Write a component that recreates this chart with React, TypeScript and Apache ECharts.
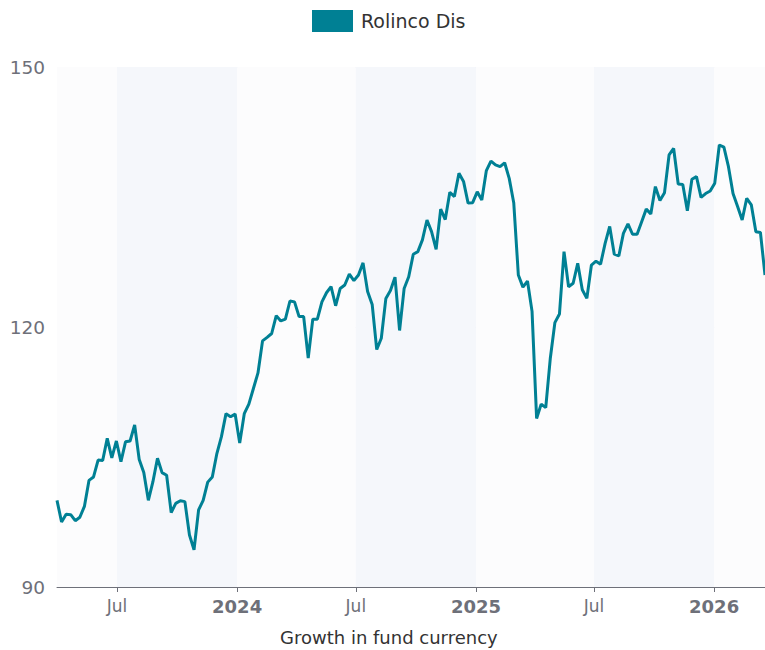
import React, { useEffect, useRef } from 'react';
import * as echarts from 'echarts';

const seriesName = 'Rolinco Dis';
const axisTitle = 'Growth in fund currency';
// first weekly observation: 31 Mar 2023 (year, monthIndex, day)
const startDate = [2023, 2, 31];
const monthNames = ['Jan', 'Feb', 'Mar', 'Apr', 'May', 'Jun', 'Jul', 'Aug', 'Sep', 'Oct', 'Nov', 'Dec'];
const yTicks = [90, 120, 150];

// weekly fund growth values (start = 100)
const values = [
  100.0, 97.5, 98.4, 98.35, 97.65, 98.05, 99.3, 102.3, 102.7, 104.65,
  104.6, 107.15, 104.9, 106.85, 104.45, 106.75, 106.85, 108.7, 104.7, 103.2,
  100.0, 102.15, 104.85, 103.2, 102.9, 98.6, 99.65, 99.95, 99.85, 96.0,
  94.3, 98.9, 100.0, 102.1, 102.7, 105.4, 107.35, 110.0, 109.65, 109.95,
  106.6, 110.0, 111.1, 112.9, 114.7, 118.4, 118.8, 119.25, 121.3, 120.7,
  120.9, 123.0, 122.9, 121.2, 121.2, 116.4, 120.9, 120.9, 122.9, 123.95,
  124.65, 122.45, 124.45, 124.85, 126.1, 125.35, 126.0, 127.4, 124.1, 122.6,
  117.4, 118.7, 123.3, 124.2, 125.75, 119.6, 124.45, 125.8, 128.4, 128.7,
  130.05, 132.35, 131.0, 128.95, 133.6, 132.4, 135.55, 135.05, 137.75, 136.8,
  134.3, 134.35, 135.6, 134.65, 138.05, 139.15, 138.7, 138.5, 138.95, 137.15,
  134.3, 126.0, 124.6, 125.3, 121.8, 109.45, 111.1, 110.7, 116.4, 120.5,
  121.5, 128.7, 124.65, 125.05, 127.35, 124.3, 123.3, 127.15, 127.6, 127.25,
  129.65, 131.6, 128.4, 128.2, 130.8, 131.9, 130.7, 130.7, 132.15, 133.6,
  133.05, 136.2, 134.6, 135.5, 139.85, 140.6, 136.5, 136.45, 133.4, 137.05,
  137.35, 134.95, 135.4, 135.7, 136.6, 141.0, 140.75, 138.5, 135.4, 133.9,
  132.35, 134.85, 134.1, 131.0, 130.9, 126.0,
];

const lineColor = '#008094';
const font = 'DejaVu Sans';

function weeklyDates(n: number): number[] {
  const out: number[] = [];
  for (let i = 0; i < n; i++) {
    const d = new Date(startDate[0], startDate[1], startDate[2] + i * 7);
    out.push(d.getTime());
  }
  return out;
}

export default function App() {
  const ref = useRef<HTMLDivElement>(null);
  useEffect(() => {
    if (!ref.current) return;
    const chart = echarts.init(ref.current, null, { renderer: 'svg' });
    const dates = weeklyDates(values.length);
    const data = dates.map((d, i) => [d, values[i]]);
    chart.setOption({
      animation: false,
      textStyle: { fontFamily: font },
      legend: {
        left: 312,
        top: 10,
        padding: 0,
        icon: 'rect',
        itemWidth: 41,
        itemHeight: 22,
        textStyle: { fontSize: 19, color: '#333', fontFamily: font, padding: [0, 0, 0, 3] },
        data: [seriesName],
      },
      grid: { left: 57, right: 0, top: 67, bottom: 63, containLabel: false, outerBoundsMode: 'none' },
      xAxis: {
        type: 'time',
        min: dates[0],
        max: dates[dates.length - 1],
        splitNumber: 6,
        axisLine: { show: true, lineStyle: { color: '#6e7079', width: 1 } },
        axisTick: { show: true, length: 5, lineStyle: { color: '#6e7079' } },
        axisLabel: {
          color: '#6e7079',
          fontSize: 17,
          fontFamily: font,
          margin: 10,
          showMinLabel: false,
          showMaxLabel: false,
          formatter: (v: number) => {
            const d = new Date(v);
            if (d.getMonth() === 0) return '{yr|' + d.getFullYear() + '}';
            return monthNames[d.getMonth()];
          },
          rich: { yr: { fontWeight: 'bold', fontSize: 18, color: '#6e7079', fontFamily: font } },
        },
        splitLine: { show: false },
        splitArea: { show: true, areaStyle: { color: ['#fcfcfd', '#f5f7fb'] } },
      },
      yAxis: {
        type: 'value',
        min: yTicks[0],
        max: yTicks[yTicks.length - 1],
        interval: yTicks[1] - yTicks[0],
        axisLine: { show: false },
        axisTick: { show: false },
        axisLabel: { color: '#6e7079', fontSize: 18.5, margin: 12, fontFamily: font },
        splitLine: { show: true, lineStyle: { color: '#e0e6f1', width: 1 } },
      },
      graphic: [
        {
          type: 'text',
          left: 280,
          top: 628,
          style: { text: axisTitle, fontSize: 18, fill: '#333', fontFamily: font },
        },
      ],
      series: [
        {
          type: 'line',
          name: seriesName,
          data,
          showSymbol: false,
          symbol: 'none',
          lineStyle: { color: lineColor, width: 3 },
          itemStyle: { color: lineColor },
        },
      ],
    });
    return () => chart.dispose();
  }, []);
  return <div ref={ref} style={{ position: 'absolute', left: 0, top: 0, width: 765, height: 650 }} />;
}
